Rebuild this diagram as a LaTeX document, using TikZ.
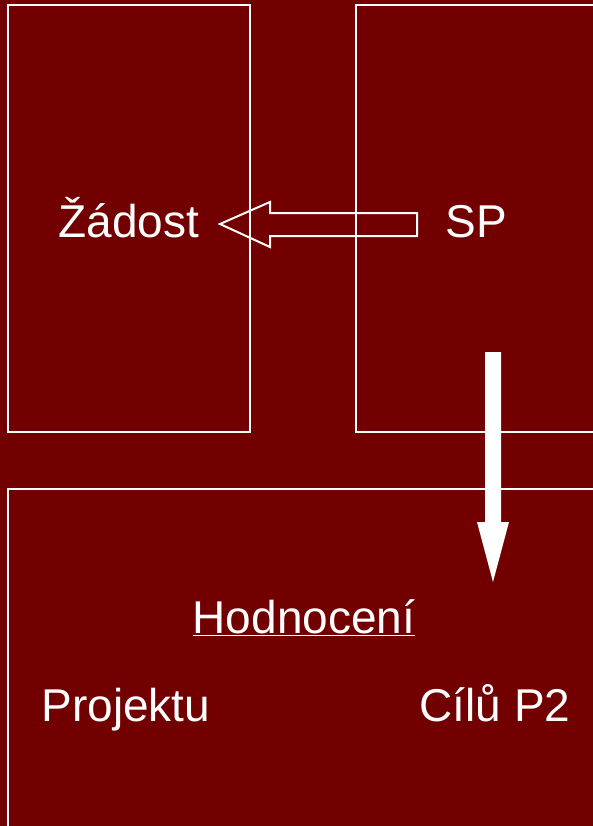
\documentclass[tikz,border=0pt]{standalone}
\usepackage{fontspec}
\setmainfont{Liberation Sans}
\usetikzlibrary{positioning}
\definecolor{edgered}{HTML}{720000}
\definecolor{midred}{HTML}{7D0000}
\tikzstyle{panel} = [
    draw=white,
    line width=1.5pt
]
\tikzstyle{caption} = [
    text=white,
    font=\fontsize{34.5}{42}\selectfont,
    anchor=base,
    inner sep=0pt
]
\tikzstyle{hollowarrow} = [draw=white, line width=1.5pt, line join=miter]
\tikzstyle{solidarrow} = [fill=white]

\begin{document}
\begin{tikzpicture}[x=0.75pt, y=-0.75pt]

\useasboundingbox (0,0) rectangle (593,826);
\clip (0,0) rectangle (593,826);
\shade[top color=edgered, middle color=midred, bottom color=edgered]
    (0,0) rectangle (593,826);

% the three panels
\draw [panel] (8,5) rectangle (250,432);
\draw [panel] (356,5) rectangle (600,432);
\draw [panel] (8,489) rectangle (600,830);

\node (zadost) [caption] at (129,237) {Žádost};
\node (sp) [caption] at (476,237) {SP};
\node (hodnoceni) [caption] at (304,633) {\underline{Hodnocení}};
\node (projektu) [caption] at (126,721) {Projektu};
\node (cilu) [caption] at (495,721) {Cílů P2};

% block arrows
\draw [hollowarrow] (417,213) -- (270,213) -- (270,202) -- (220,224)
    -- (270,247) -- (270,236) -- (417,236) -- cycle;
\fill [solidarrow] (485,352) -- (501,352) -- (501,522) -- (509,522)
    -- (493,582) -- (477,522) -- (485,522) -- cycle;

\end{tikzpicture}
\end{document}
